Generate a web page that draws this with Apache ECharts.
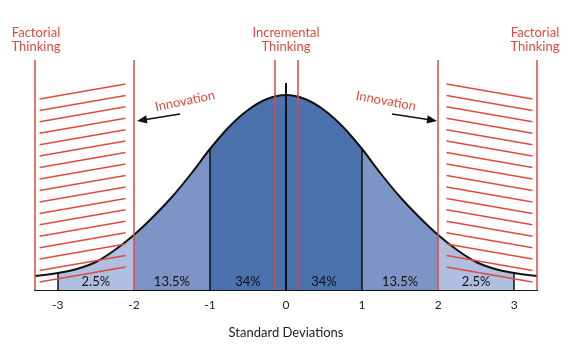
<!DOCTYPE html>
<html><head><meta charset="utf-8">
<script src="https://cdn.jsdelivr.net/npm/echarts@6/dist/echarts.min.js"></script>
<style>html,body{margin:0;padding:0;background:#fff}#c{width:576px;height:360px}</style>
</head><body><div id="c"></div>
<script>
// Curve (standard deviations vs. relative height)
const curveX = [-3.3, -3.0, -2.75, -2.5, -2.25, -2.0, -1.75, -1.5, -1.25, -1.0, -0.75, -0.5, -0.25, 0, 0.25, 0.5, 0.75, 1.0, 1.25, 1.5, 1.75, 2.0, 2.25, 2.5, 2.75, 3.0, 3.3];
const curveH = [14, 17, 21, 28, 40, 55, 73, 93, 116, 141, 163, 180, 191, 195, 191, 180, 163, 141, 116, 93, 73, 55, 40, 28, 21, 17, 14];
const tickValues = [-3, -2, -1, 0, 1, 2, 3];
const percentX = [-2.5, -1.5, -0.5, 0.5, 1.5, 2.5];
const percentLabels = ['2.5%', '13.5%', '34%', '34%', '13.5%', '2.5%'];
const blackLineX = [-3, -1, 1, 3];
const centerLineX = 0;
const centerLineTop = 207;
const redLineX = [-3.3, -2, -0.15, 0.15, 2, 3.3];
const redLineTop = 230;
const hatchLevels = [8, 19.4, 30.9, 42.3, 53.8, 65.2, 76.6, 88.1, 99.5, 111, 122.4, 133.9, 145.3, 156.8, 168.2, 179.6, 191];
const hatchLeftRange = [-3.24, -2.11];
const hatchRightRange = [2.11, 3.24];
const hatchRise = 15;

const RED = '#df4a3e';
const FONT = 'Lato';

function heightAt(x) { return curveH[curveX.indexOf(x)]; }

const blackLines = blackLineX.map(x => ({ coords: [[x, 0], [x, heightAt(x)]] }));
const hatchLines = [];
hatchLevels.forEach(l => {
  hatchLines.push({ coords: [[hatchLeftRange[0], l], [hatchLeftRange[1], l + hatchRise]] });
  hatchLines.push({ coords: [[hatchRightRange[0], l + hatchRise], [hatchRightRange[1], l]] });
});
const redLines = redLineX.map(x => ({ coords: [[x, 0], [x, redLineTop]] }));

const chart = echarts.init(document.getElementById('c'), null, { renderer: 'canvas' });
chart.setOption({
  animation: false,
  backgroundColor: '#fff',
  grid: { left: 35, right: 39, top: 60, bottom: 70 },
  xAxis: {
    type: 'value', min: -3.3, max: 3.3,
    axisLine: { show: true, onZero: false, lineStyle: { color: '#111', width: 2 } },
    axisTick: { show: false },
    splitLine: { show: false },
    axisLabel: { customValues: tickValues, color: '#222', fontSize: 12, fontFamily: FONT, margin: 9 },
    name: 'Standard Deviations', nameLocation: 'middle', nameGap: 36,
    nameTextStyle: { color: '#222', fontSize: 13, fontFamily: FONT }
  },
  yAxis: { type: 'value', min: 0, max: 230, show: false },
  visualMap: {
    show: false, type: 'piecewise', dimension: 0, seriesIndex: 0,
    pieces: [
      { lt: -3, color: '#ffffff' },
      { gte: -3, lt: -2, color: '#b0bfdf' },
      { gte: -2, lt: -1, color: '#7c95c6' },
      { gte: -1, lt: 1, color: '#4b72ac' },
      { gte: 1, lt: 2, color: '#7c95c6' },
      { gte: 2, lt: 3, color: '#b0bfdf' },
      { gte: 3, color: '#ffffff' }
    ]
  },
  series: [
    {
      type: 'line', z: 2,
      data: curveX.map((x, i) => [x, curveH[i]]),
      smooth: 0.35, showSymbol: false, silent: true,
      lineStyle: { color: '#111', width: 2 },
      areaStyle: { opacity: 1 }
    },
    {
      type: 'lines', coordinateSystem: 'cartesian2d', z: 3, silent: true,
      lineStyle: { color: '#111', width: 1.5, opacity: 1 },
      data: blackLines.concat([{ coords: [[centerLineX, 0], [centerLineX, centerLineTop]], lineStyle: { width: 2 } }])
    },
    {
      type: 'lines', coordinateSystem: 'cartesian2d', z: 4, silent: true,
      lineStyle: { color: RED, width: 1.5, opacity: 1 },
      data: redLines.concat(hatchLines)
    },
    {
      type: 'scatter', z: 5, symbolSize: 1, silent: true,
      itemStyle: { opacity: 1, color: 'transparent' },
      data: percentX.map((x, i) => ({ value: [x, 8], name: percentLabels[i] })),
      label: { show: true, position: 'inside', formatter: p => p.name, color: '#111', opacity: 1, fontSize: 13, fontFamily: FONT, textBorderWidth: 0 }
    }
  ],
  graphic: [
    { type: 'text', x: 36, y: 40, style: { text: 'Factorial\nThinking', align: 'center', verticalAlign: 'middle', lineHeight: 14, fill: RED, font: '13px ' + FONT } },
    { type: 'text', x: 286, y: 40, style: { text: 'Incremental\nThinking', align: 'center', verticalAlign: 'middle', lineHeight: 14, fill: RED, font: '13px ' + FONT } },
    { type: 'text', x: 535, y: 40, style: { text: 'Factorial\nThinking', align: 'center', verticalAlign: 'middle', lineHeight: 14, fill: RED, font: '13px ' + FONT } },
    { type: 'text', x: 185, y: 101, rotation: 0.2, style: { text: 'Innovation', align: 'center', verticalAlign: 'middle', fill: RED, font: '13px ' + FONT } },
    { type: 'text', x: 386, y: 101, rotation: -0.18, style: { text: 'Innovation', align: 'center', verticalAlign: 'middle', fill: RED, font: '13px ' + FONT } },
    { type: 'line', shape: { x1: 180, y1: 114, x2: 146, y2: 119.5 }, style: { stroke: '#111', lineWidth: 1.5 } },
    { type: 'polygon', shape: { points: [[137, 121], [147.5, 123.5], [146.2, 115.3]] }, style: { fill: '#111' } },
    { type: 'line', shape: { x1: 392, y1: 114, x2: 428, y2: 119.5 }, style: { stroke: '#111', lineWidth: 1.5 } },
    { type: 'polygon', shape: { points: [[437, 121], [426.5, 123.5], [427.7, 115.3]] }, style: { fill: '#111' } }
  ]
});
</script></body></html>
